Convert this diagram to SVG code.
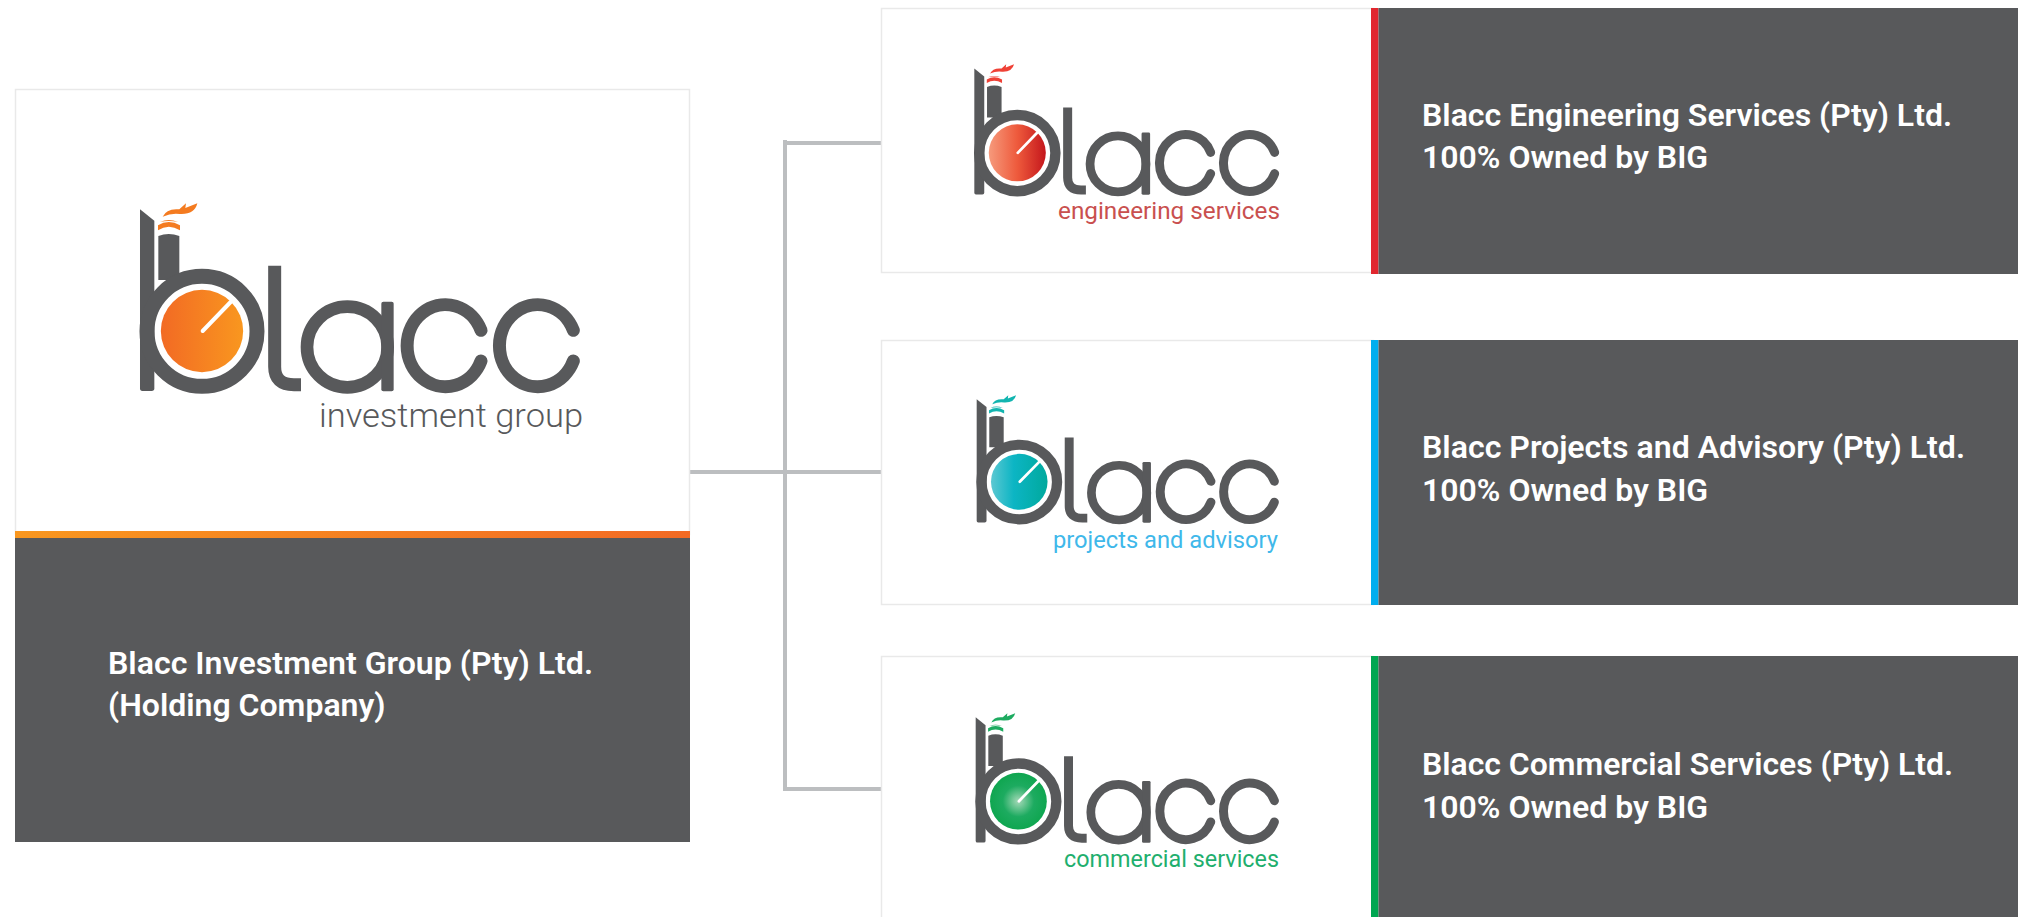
<svg xmlns="http://www.w3.org/2000/svg" xmlns:xlink="http://www.w3.org/1999/xlink" width="2018" height="917" viewBox="0 0 2018 917">
<style>
.card{fill:#fff;stroke:#e9e9e9;stroke-width:1.5}
.dark{fill:#58595b}
.t{font-family:Roboto,"Liberation Sans",sans-serif;font-weight:600;font-size:32px;fill:#fff}
.sub{font-family:Roboto,"Liberation Sans",sans-serif;font-weight:300;font-size:34px}
.sub2{font-family:Roboto,"Liberation Sans",sans-serif;font-weight:400;font-size:23px}
.conn{fill:none;stroke:#bcbec0;stroke-width:4}
.ink{fill:#58595b}
.st{fill:none;stroke:#58595b}
</style>
<defs>
<linearGradient id="gO"><stop offset="0" stop-color="#f26a24"/><stop offset="1" stop-color="#f9971f"/></linearGradient>
<linearGradient id="gBar"><stop offset="0" stop-color="#f9971f"/><stop offset="1" stop-color="#f26a24"/></linearGradient>
<linearGradient id="gR"><stop offset="0" stop-color="#f69a7c"/><stop offset=".5" stop-color="#ee5a3c"/><stop offset="1" stop-color="#c4161c"/></linearGradient>
<linearGradient id="gT"><stop offset="0" stop-color="#5cc8d2"/><stop offset=".4" stop-color="#0cb5c4"/><stop offset="1" stop-color="#00a99d"/></linearGradient>
<radialGradient id="gG"><stop offset="0" stop-color="#a5d9b8"/><stop offset=".55" stop-color="#1dab60"/><stop offset="1" stop-color="#0fa650"/></radialGradient>
<g id="logo">
<path class="ink" d="M120,88 L163,122 V625 Q163,633 155,633 H127 Q120,633 120,625 Z"/>
<path class="ink" d="M175,168 Q206,156 238,168 V300 H175 Z"/>
<circle class="st" cx="306" cy="454" r="165" stroke-width="45"/>
<path class="st" stroke-width="39" stroke-linejoin="round" d="M524,257 V560 Q524,614 582,614 H603"/>
<circle class="st" cx="742" cy="501" r="121" stroke-width="38"/>
<rect class="ink" x="844" y="365" width="37" height="269" rx="6"/>
<path class="st" stroke-width="39" stroke-linecap="round" d="M1143,451 A115,123 0 1 0 1143,543"/>
<path class="st" stroke-width="39" stroke-linecap="round" d="M1420,451 A115,123 0 1 0 1420,543"/>
<path fill="none" stroke="#fff" stroke-width="12" stroke-linecap="round" d="M308,453 L392,366"/>
<path fill="currentColor" d="M174,151 Q206,130 240,151 L240,136 Q206,116 174,136 Z M180,126 Q206,114 234,126 Q206,120 180,126 Z M188,110 Q200,84 238,88 L258,70 L256,84 L292,70 Q284,104 240,102 Q215,98 188,110 Z"/>
</g>
</defs>

<g id="connectors">
<path class="conn" d="M690,472 H881 M785,140 V791 M785,143 H881 M785,789 H881"/>
</g>

<g id="node-holding">
<rect class="card" x="15.500" y="89.500" width="674" height="445"/>
<rect x="15" y="531" width="675" height="7" fill="url(#gBar)"/>
<rect class="dark" x="15" y="538" width="675" height="304"/>
<circle cx="306" cy="453" r="123.500" fill="url(#gO)" transform="translate(100 180) scale(.33333)"/>
<use xlink:href="#logo" href="#logo" transform="translate(100 180) scale(.33333)" color="#f47b20"/>
<text class="sub" x="319" y="427" fill="#58595b" textLength="264" lengthAdjust="spacingAndGlyphs">investment group</text>
<text class="t" x="108" y="674" textLength="485" lengthAdjust="spacingAndGlyphs">Blacc Investment Group (Pty) Ltd.</text>
<text class="t" x="108" y="716">(Holding Company)</text>
</g>

<g id="node-engineering">
<rect class="card" x="881.500" y="8.500" width="492" height="264"/>
<rect x="1371" y="8" width="7.500" height="266" fill="#e1272f"/>
<rect class="dark" x="1378.500" y="8" width="639.500" height="266"/>
<g transform="translate(946.600 48.200) scale(.231)" color="#ef4136">
<circle cx="306" cy="453" r="123.500" fill="url(#gR)"/>
<use xlink:href="#logo" href="#logo"/>
</g>
<text class="sub2" x="1058" y="219" fill="#c9504f" textLength="222" lengthAdjust="spacingAndGlyphs">engineering services</text>
<text class="t" x="1422" y="126" textLength="530" lengthAdjust="spacingAndGlyphs">Blacc Engineering Services (Pty) Ltd.</text>
<text class="t" x="1422" y="168">100% Owned by BIG</text>
</g>

<g id="node-projects">
<rect class="card" x="881.500" y="340.500" width="492" height="264"/>
<rect x="1371" y="340" width="7.500" height="265" fill="#00aeef"/>
<rect class="dark" x="1378.500" y="340" width="639.500" height="265"/>
<g transform="translate(949.200 379.400) scale(.229 .226)" color="#12b5b0">
<circle cx="306" cy="453" r="123.500" fill="url(#gT)"/>
<use xlink:href="#logo" href="#logo"/>
</g>
<text class="sub2" x="1053" y="548" fill="#3fb8ea" textLength="225" lengthAdjust="spacingAndGlyphs">projects and advisory</text>
<text class="t" x="1422" y="458" textLength="543" lengthAdjust="spacingAndGlyphs">Blacc Projects and Advisory (Pty) Ltd.</text>
<text class="t" x="1422" y="501">100% Owned by BIG</text>
</g>

<g id="node-commercial">
<rect class="card" x="881.500" y="656.500" width="492" height="270"/>
<rect x="1371" y="656" width="7.500" height="261" fill="#00a651"/>
<rect class="dark" x="1378.500" y="656" width="639.500" height="261"/>
<g transform="translate(948.100 697.100) scale(.2298)" color="#1dab60">
<circle cx="306" cy="453" r="123.500" fill="url(#gG)"/>
<use xlink:href="#logo" href="#logo"/>
</g>
<text class="sub2" x="1064" y="867" fill="#1faf6e" textLength="215" lengthAdjust="spacingAndGlyphs">commercial services</text>
<text class="t" x="1422" y="775" textLength="531" lengthAdjust="spacingAndGlyphs">Blacc Commercial Services (Pty) Ltd.</text>
<text class="t" x="1422" y="818">100% Owned by BIG</text>
</g>
</svg>
